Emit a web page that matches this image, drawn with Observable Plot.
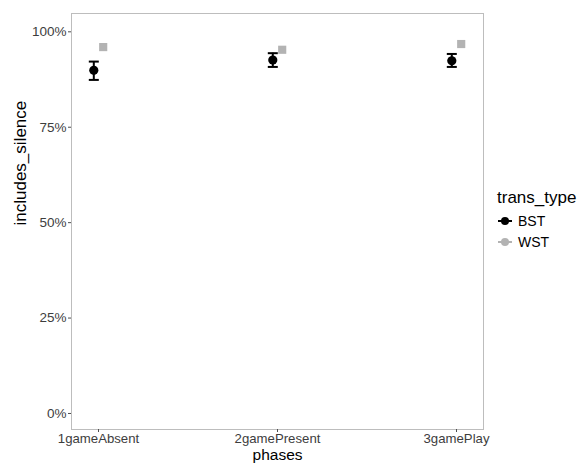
<!DOCTYPE html>
<html>
<head>
<meta charset="utf-8">
<script src="https://cdn.jsdelivr.net/npm/d3@7"></script>
<script src="https://cdn.jsdelivr.net/npm/@observablehq/plot@0.6"></script>
<style>
  html, body { margin: 0; padding: 0; background: #fff; }
  #wrap { position: relative; width: 582px; height: 463px; overflow: hidden; font-family: "Liberation Sans", Arial, Helvetica, sans-serif; }
  #legend { position: absolute; left: 497px; top: 188px; color: #000; }
  #legend .title { font-size: 17px; line-height: 20px; margin-bottom: 2px; }
  #legend .item { display: flex; align-items: center; height: 21px; font-size: 14px; }
  #legend svg { margin-right: 5px; }
</style>
</head>
<body>
<div id="wrap"></div>
<script>
const phases = ["1gameAbsent", "2gamePresent", "3gamePlay"];
const transTypes = ["BST", "WST"];
const bstMean = [0.899, 0.926, 0.924];
const bstLow  = [0.874, 0.908, 0.908];
const bstHigh = [0.922, 0.944, 0.942];
const wstMean = [0.960, 0.953, 0.968];
const yTicks = [0, 0.25, 0.5, 0.75, 1];

const bst = phases.map((p, i) => ({phase: p, mean: bstMean[i], low: bstLow[i], high: bstHigh[i]}));
const wst = phases.map((p, i) => ({phase: p, mean: wstMean[i]}));
const colors = {BST: "#000000", WST: "#b3b3b3"};

const capSymbol = {
  draw(ctx, size) {
    const h = Math.sqrt(size / Math.PI);
    ctx.moveTo(-h, 0);
    ctx.lineTo(h, 0);
  }
};

const off = 4.7;

const chart = Plot.plot({
  width: 582,
  height: 463,
  marginLeft: 71,
  marginRight: 99,
  marginTop: 13,
  marginBottom: 34,
  style: {fontFamily: '"Liberation Sans", Arial, Helvetica, sans-serif', background: "#fff", overflow: "visible"},
  x: {type: "point", domain: phases, padding: 0.15},
  y: {domain: [-0.042, 1.048]},
  marks: [
    Plot.frame({stroke: "#bdbdbd", strokeWidth: 1}),
    Plot.axisY({ticks: yTicks, tickFormat: d3.format(".0%"), tickSize: 3, tickPadding: 2, fontSize: 13.5, color: "#3d3d3d", stroke: "#4d4d4d", label: null}),
    Plot.axisX({tickSize: 3, tickPadding: 1.5, fontSize: 13.2, color: "#3d3d3d", stroke: "#4d4d4d", label: null}),
    Plot.text(["includes_silence"], {frameAnchor: "left", dx: -51, dy: 4, rotate: -90, fontSize: 17, fill: "#000", lineAnchor: "middle"}),
    Plot.text(["phases"], {frameAnchor: "bottom", dy: 19.5, fontSize: 15.5, fill: "#000", lineAnchor: "top"}),
    Plot.ruleX(bst, {x: "phase", y1: "low", y2: "high", dx: -off, stroke: colors.BST, strokeWidth: 2}),
    Plot.dot(bst, {x: "phase", y: "low", dx: -off, symbol: capSymbol, r: 5, stroke: colors.BST, strokeWidth: 2, fill: "none"}),
    Plot.dot(bst, {x: "phase", y: "high", dx: -off, symbol: capSymbol, r: 5, stroke: colors.BST, strokeWidth: 2, fill: "none"}),
    Plot.dot(bst, {x: "phase", y: "mean", dx: -off, r: 4.6, fill: colors.BST, stroke: "none"}),
    Plot.dot(wst, {x: "phase", y: "mean", dx: off, symbol: "square", r: 4.6, fill: colors.WST, stroke: "none"})
  ]
});

const wrap = document.getElementById("wrap");
wrap.appendChild(chart);

const legend = document.createElement("div");
legend.id = "legend";
const title = document.createElement("div");
title.className = "title";
title.textContent = "trans_type";
legend.appendChild(title);
for (const t of transTypes) {
  const item = document.createElement("div");
  item.className = "item";
  const s = d3.create("svg").attr("width", 16).attr("height", 12);
  s.append("line").attr("x1", 1).attr("x2", 15).attr("y1", 6).attr("y2", 6).attr("stroke", colors[t]).attr("stroke-width", 2);
  s.append("circle").attr("cx", 8).attr("cy", 6).attr("r", 4).attr("fill", colors[t]);
  item.appendChild(s.node());
  const lab = document.createElement("span");
  lab.textContent = t;
  item.appendChild(lab);
  legend.appendChild(item);
}
wrap.appendChild(legend);
</script>
</body>
</html>
